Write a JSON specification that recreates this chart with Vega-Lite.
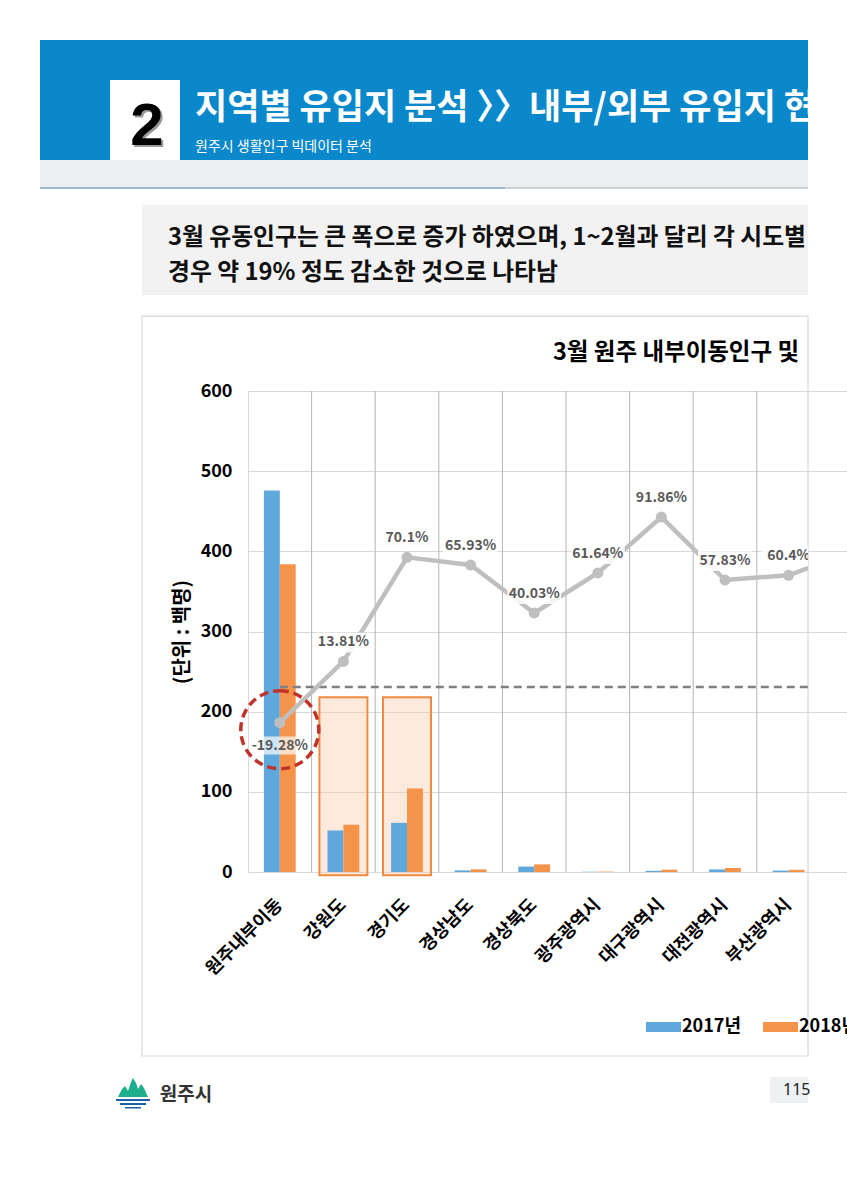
{
  "$schema": "https://vega.github.io/schema/vega-lite/v6.json",
  "padding": {"left": 40, "top": 40, "right": 0, "bottom": 0},
  "background": "#ffffff",
  "config": {
    "view": {"stroke": null},
    "font": "Noto Sans CJK KR",
    "locale": {"number": {"decimal": ".", "thousands": ",", "grouping": [3], "currency": ["", ""], "minus": "-"}}
  },
  "datasets": {
    "bars": [
      {"cat": "원주내부이동", "year": "2017년", "value": 476},
      {"cat": "원주내부이동", "year": "2018년", "value": 384},
      {"cat": "강원도", "year": "2017년", "value": 51.8},
      {"cat": "강원도", "year": "2018년", "value": 59},
      {"cat": "경기도", "year": "2017년", "value": 61.3},
      {"cat": "경기도", "year": "2018년", "value": 104.3},
      {"cat": "경상남도", "year": "2017년", "value": 2.0},
      {"cat": "경상남도", "year": "2018년", "value": 3.3},
      {"cat": "경상북도", "year": "2017년", "value": 6.8},
      {"cat": "경상북도", "year": "2018년", "value": 9.5},
      {"cat": "광주광역시", "year": "2017년", "value": 0.3},
      {"cat": "광주광역시", "year": "2018년", "value": 0.5},
      {"cat": "대구광역시", "year": "2017년", "value": 1.5},
      {"cat": "대구광역시", "year": "2018년", "value": 2.9},
      {"cat": "대전광역시", "year": "2017년", "value": 3.2},
      {"cat": "대전광역시", "year": "2018년", "value": 5.0},
      {"cat": "부산광역시", "year": "2017년", "value": 1.7},
      {"cat": "부산광역시", "year": "2018년", "value": 2.7},
      {"cat": "서울특별시", "year": "2017년", "value": 5.0},
      {"cat": "서울특별시", "year": "2018년", "value": 8.6}
    ],
    "rate": [
      {"cat": "원주내부이동", "pct": -0.1928, "highlight": false},
      {"cat": "강원도", "pct": 0.1381, "highlight": true},
      {"cat": "경기도", "pct": 0.701, "highlight": true},
      {"cat": "경상남도", "pct": 0.6593, "highlight": false},
      {"cat": "경상북도", "pct": 0.4003, "highlight": false},
      {"cat": "광주광역시", "pct": 0.6164, "highlight": false},
      {"cat": "대구광역시", "pct": 0.9186, "highlight": false},
      {"cat": "대전광역시", "pct": 0.5783, "highlight": false},
      {"cat": "부산광역시", "pct": 0.604, "highlight": false},
      {"cat": "서울특별시", "pct": 0.73, "highlight": false}
    ]
  },
  "spacing": 0,
  "vconcat": [
    {
      "spacing": 0,
      "hconcat": [
        {"width": 70, "height": 120, "view": {"fill": "#0A88CB"}, "data": {"values": []}, "mark": "point"},
        {
          "spacing": 0,
          "vconcat": [
            {"width": 70, "height": 40, "view": {"fill": "#0A88CB"}, "data": {"values": []}, "mark": "point"},
            {
              "width": 70, "height": 80, "view": {"fill": "#FFFFFF"},
              "data": {"values": [{"t": "2"}]},
              "layer": [
                {"mark": {"type": "text", "font": "Liberation Sans", "fontSize": 60, "fontWeight": "bold", "color": "#9A9A9A", "align": "center", "baseline": "alphabetic", "dx": 4, "dy": 27}, "encoding": {"text": {"field": "t"}}},
                {"mark": {"type": "text", "font": "Liberation Sans", "fontSize": 60, "fontWeight": "bold", "color": "#000000", "align": "center", "baseline": "alphabetic", "dx": 2, "dy": 25}, "encoding": {"text": {"field": "t"}}}
              ]
            }
          ]
        },
        {
          "width": 628, "height": 120, "view": {"fill": "#0A88CB"},
          "layer": [
            {"data": {"values": [{"t": "지역별 유입지 분석 〉〉내부/외부 유입지 현황"}]}, "mark": {"type": "text", "fontSize": 35, "fontWeight": "bold", "color": "#FFFFFF", "align": "left", "baseline": "alphabetic", "dx": -299, "dy": 19, "limit": 625, "ellipsis": "\u200b"}, "encoding": {"text": {"field": "t"}}},
            {"data": {"values": [{"t": "원주시 생활인구 빅데이터 분석"}]}, "mark": {"type": "text", "fontSize": 14, "color": "#FFFFFF", "align": "left", "baseline": "alphabetic", "dx": -299, "dy": 51}, "encoding": {"text": {"field": "t"}}}
          ]
        }
      ]
    },
    {"width": 768, "height": 27, "view": {"fill": "#ECEEF2"}, "data": {"values": []}, "mark": "point"},
    {
      "spacing": 0,
      "hconcat": [
        {"width": 465, "height": 2, "view": {"fill": "#9DB9D8"}, "data": {"values": []}, "mark": "point"},
        {"width": 303, "height": 2, "view": {"fill": "#CDD0D5"}, "data": {"values": []}, "mark": "point"}
      ]
    },
    {"width": 1, "height": 16, "data": {"values": []}, "mark": "point"},
    {
      "spacing": 0,
      "hconcat": [
        {"width": 102, "height": 90, "data": {"values": []}, "mark": "point"},
        {
          "width": 666, "height": 90, "view": {"fill": "#F2F2F2"},
          "layer": [
            {"data": {"values": [{"t": "3월 유동인구는 큰 폭으로 증가 하였으며, 1~2월과 달리 각 시도별"}]}, "mark": {"type": "text", "fontSize": 23.8, "fontWeight": "bold", "color": "#111111", "align": "left", "baseline": "alphabetic", "dx": -307, "dy": -5, "limit": 662, "ellipsis": "\u200b"}, "encoding": {"text": {"field": "t"}}},
            {"data": {"values": [{"t": "경우 약 19% 정도 감소한 것으로 나타남"}]}, "mark": {"type": "text", "fontSize": 23.8, "fontWeight": "bold", "color": "#111111", "align": "left", "baseline": "alphabetic", "dx": -307, "dy": 30}, "encoding": {"text": {"field": "t"}}}
          ]
        }
      ]
    },
    {"width": 1, "height": 20, "data": {"values": []}, "mark": "point"},
    {
      "bounds": "flush",
      "spacing": 0,
      "hconcat": [
        {"width": 208, "height": 481, "data": {"values": []}, "mark": "point"},
        {
          "width": 560,
          "height": 481,
          "title": {"text": "3월 원주 내부이동인구 및", "anchor": "start", "frame": "group", "dx": 305, "offset": -49, "fontSize": 23.5, "fontWeight": "bold", "color": "#000000", "font": "Noto Sans CJK KR"},
          "layer": [
            {
              "layer": [
                {
                  "data": {"values": [{"box": "chart area"}]},
                  "mark": {"type": "rect", "fill": null, "stroke": "#D9D9D9", "strokeWidth": 1.2, "clip": false},
                  "encoding": {
                    "x": {"datum": "원주내부이동", "type": "nominal", "bandPosition": -1.6667,
                      "scale": {"domain": ["원주내부이동", "강원도", "경기도", "경상남도", "경상북도", "광주광역시", "대구광역시", "대전광역시", "부산광역시", "서울특별시"], "range": [0, 636], "paddingInner": 0, "paddingOuter": 0},
                      "axis": {"values": ["원주내부이동", "강원도", "경기도", "경상남도", "경상북도", "광주광역시", "대구광역시", "대전광역시", "부산광역시"], "title": null, "labelAngle": -45, "labelAlign": "right", "labelBaseline": "middle", "labelFontSize": 18, "labelFontWeight": "bold", "labelColor": "#000000", "labelPadding": 30, "labelLimit": 300, "ticks": false, "domain": false, "grid": false}},
                    "x2": {"datum": "부산광역시", "bandPosition": 0.805},
                    "y": {"datum": 693.5, "type": "quantitative", "scale": {"domain": [0, 600], "nice": false, "zero": true},
                      "axis": {"title": "(단위 : 백명)", "values": [0, 100, 200, 300, 400, 500, 600], "grid": true, "gridColor": "#D9D9D9", "gridWidth": 1, "ticks": false, "domain": false, "labelFontSize": 18, "labelFontWeight": "bold", "labelColor": "#000000", "labelPadding": 16, "titleFontSize": 20, "titleFontWeight": "bold", "titleColor": "#000000", "titlePadding": 8}},
                    "y2": {"datum": -229.5}
                  }
                },
                {
                  "data": {"name": "rate"},
                  "mark": {"type": "rule", "color": "#B4B4B4", "strokeWidth": 1, "clip": true},
                  "encoding": {
                    "x": {"field": "cat", "type": "nominal", "sort": null, "bandPosition": 0,
                      "scale": {"domain": ["원주내부이동", "강원도", "경기도", "경상남도", "경상북도", "광주광역시", "대구광역시", "대전광역시", "부산광역시", "서울특별시"], "range": [0, 636], "paddingInner": 0, "paddingOuter": 0},
                      "axis": {"values": ["원주내부이동", "강원도", "경기도", "경상남도", "경상북도", "광주광역시", "대구광역시", "대전광역시", "부산광역시"], "title": null, "labelAngle": -45, "labelAlign": "right", "labelBaseline": "middle", "labelFontSize": 18, "labelFontWeight": "bold", "labelColor": "#000000", "labelPadding": 30, "labelLimit": 300, "ticks": false, "domain": false, "grid": false}}
                  }
                },
                {
                  "data": {"name": "rate"},
                  "transform": [{"filter": "datum.highlight"}],
                  "mark": {"type": "bar", "width": {"band": 0.755}, "fill": "#F9CBA9", "fillOpacity": 0.4, "stroke": "#EE8B40", "strokeWidth": 2, "clip": false},
                  "encoding": {
                    "x": {"field": "cat", "type": "nominal", "sort": null,
                      "scale": {"domain": ["원주내부이동", "강원도", "경기도", "경상남도", "경상북도", "광주광역시", "대구광역시", "대전광역시", "부산광역시", "서울특별시"], "range": [0, 636], "paddingInner": 0, "paddingOuter": 0},
                      "axis": {"values": ["원주내부이동", "강원도", "경기도", "경상남도", "경상북도", "광주광역시", "대구광역시", "대전광역시", "부산광역시"], "title": null, "labelAngle": -45, "labelAlign": "right", "labelBaseline": "middle", "labelFontSize": 18, "labelFontWeight": "bold", "labelColor": "#000000", "labelPadding": 30, "labelLimit": 300, "ticks": false, "domain": false, "grid": false}},
                    "y": {"datum": 218, "type": "quantitative", "scale": {"domain": [0, 600], "nice": false, "zero": true},
                      "axis": {"title": "(단위 : 백명)", "values": [0, 100, 200, 300, 400, 500, 600], "grid": true, "gridColor": "#D9D9D9", "gridWidth": 1, "ticks": false, "domain": false, "labelFontSize": 18, "labelFontWeight": "bold", "labelColor": "#000000", "labelPadding": 16, "titleFontSize": 20, "titleFontWeight": "bold", "titleColor": "#000000", "titlePadding": 8}},
                    "y2": {"datum": -4}
                  }
                },
                {
                  "data": {"name": "bars"},
                  "mark": {"type": "bar", "clip": true},
                  "encoding": {
                    "x": {"field": "cat", "type": "nominal", "sort": null,
                      "scale": {"domain": ["원주내부이동", "강원도", "경기도", "경상남도", "경상북도", "광주광역시", "대구광역시", "대전광역시", "부산광역시", "서울특별시"], "range": [0, 636], "paddingInner": 0, "paddingOuter": 0},
                      "axis": {"values": ["원주내부이동", "강원도", "경기도", "경상남도", "경상북도", "광주광역시", "대구광역시", "대전광역시", "부산광역시"], "title": null, "labelAngle": -45, "labelAlign": "right", "labelBaseline": "middle", "labelFontSize": 18, "labelFontWeight": "bold", "labelColor": "#000000", "labelPadding": 30, "labelLimit": 300, "ticks": false, "domain": false, "grid": false}},
                    "xOffset": {"field": "year", "type": "nominal", "scale": {"paddingInner": 0, "paddingOuter": 1.078}},
                    "y": {"field": "value", "type": "quantitative", "scale": {"domain": [0, 600], "nice": false, "zero": true},
                      "axis": {"title": "(단위 : 백명)", "values": [0, 100, 200, 300, 400, 500, 600], "grid": true, "gridColor": "#D9D9D9", "gridWidth": 1, "ticks": false, "domain": false, "labelFontSize": 18, "labelFontWeight": "bold", "labelColor": "#000000", "labelPadding": 16, "titleFontSize": 20, "titleFontWeight": "bold", "titleColor": "#000000", "titlePadding": 8}},
                    "color": {"field": "year", "type": "nominal",
                      "scale": {"domain": ["2017년", "2018년"], "range": ["#5FA8DC", "#F5934A"]},
                      "legend": {"orient": "none", "legendX": 602, "legendY": 978, "direction": "horizontal", "title": null, "symbolType": "M-1,-1H6V1H-1Z", "symbolSize": 100, "symbolStrokeWidth": 0, "symbolOpacity": 1, "labelFontSize": 18, "labelFontWeight": "bold", "labelColor": "#000000", "labelOffset": 22, "columnPadding": 17, "padding": 0}}
                  }
                }
              ]
            },
            {
              "layer": [
                {
                  "data": {"name": "rate"},
                  "mark": {"type": "line", "strokeDash": [8, 5], "color": "#7F7F7F", "strokeWidth": 2.5, "clip": true},
                  "encoding": {
                    "x": {"field": "cat", "type": "nominal", "sort": null},
                    "y": {"datum": 0, "type": "quantitative", "scale": {"domain": [-1, 1.6], "nice": false, "zero": false}, "axis": null}
                  }
                },
                {
                  "data": {"name": "rate"},
                  "mark": {"type": "line", "color": "#BFBFBF", "strokeWidth": 4.5, "clip": true},
                  "encoding": {
                    "x": {"field": "cat", "type": "nominal", "sort": null},
                    "y": {"field": "pct", "type": "quantitative", "scale": {"domain": [-1, 1.6], "nice": false, "zero": false}, "axis": null}
                  }
                },
                {
                  "data": {"name": "rate"},
                  "mark": {"type": "point", "shape": "circle", "filled": true, "size": 121, "color": "#BFBFBF", "opacity": 1, "clip": true},
                  "encoding": {
                    "x": {"field": "cat", "type": "nominal", "sort": null},
                    "y": {"field": "pct", "type": "quantitative", "scale": {"domain": [-1, 1.6], "nice": false, "zero": false}, "axis": null}
                  }
                },
                {
                  "data": {"name": "rate"},
                  "transform": [{"filter": "datum.pct >= 0"}],
                  "mark": {"type": "point", "shape": "M-3,-3.2H3V-1H-3Z", "filled": true, "size": 324, "color": "#FFFFFF", "opacity": 0.85, "strokeWidth": 0, "clip": true},
                  "encoding": {
                    "x": {"field": "cat", "type": "nominal", "sort": null},
                    "y": {"field": "pct", "type": "quantitative", "scale": {"domain": [-1, 1.6], "nice": false, "zero": false}, "axis": null}
                  }
                },
                {
                  "data": {"name": "rate"},
                  "transform": [{"filter": "datum.pct < 0"}],
                  "mark": {"type": "point", "shape": "M-3.3,1.55H3.3V3.55H-3.3Z", "filled": true, "size": 324, "color": "#FFFFFF", "opacity": 0.7, "strokeWidth": 0, "clip": true},
                  "encoding": {
                    "x": {"field": "cat", "type": "nominal", "sort": null},
                    "y": {"field": "pct", "type": "quantitative", "scale": {"domain": [-1, 1.6], "nice": false, "zero": false}, "axis": null}
                  }
                },
                {
                  "data": {"name": "rate"},
                  "transform": [{"filter": "datum.pct >= 0"}],
                  "mark": {"type": "text", "dy": -19, "baseline": "middle", "align": "center", "fontSize": 14, "fontWeight": "bold", "color": "#595959", "clip": true},
                  "encoding": {
                    "x": {"field": "cat", "type": "nominal", "sort": null},
                    "y": {"field": "pct", "type": "quantitative", "scale": {"domain": [-1, 1.6], "nice": false, "zero": false}, "axis": null},
                    "text": {"field": "pct", "type": "quantitative", "format": ".2~%"}
                  }
                },
                {
                  "data": {"name": "rate"},
                  "transform": [{"filter": "datum.pct < 0"}],
                  "mark": {"type": "text", "dy": 23, "baseline": "middle", "align": "center", "fontSize": 14, "fontWeight": "bold", "color": "#595959", "clip": true},
                  "encoding": {
                    "x": {"field": "cat", "type": "nominal", "sort": null},
                    "y": {"field": "pct", "type": "quantitative", "scale": {"domain": [-1, 1.6], "nice": false, "zero": false}, "axis": null},
                    "text": {"field": "pct", "type": "quantitative", "format": ".2~%"}
                  }
                },
                {
                  "data": {"name": "rate"},
                  "transform": [{"filter": "datum.pct < 0"}],
                  "mark": {"type": "point", "shape": "M0,-0.82A1,1,0,1,1,0,1.18A1,1,0,1,1,0,-0.82Z", "filled": false, "size": 6084, "stroke": "#C0332B", "strokeWidth": 3.5, "strokeDash": [9, 5], "opacity": 1, "clip": false},
                  "encoding": {
                    "x": {"field": "cat", "type": "nominal", "sort": null},
                    "y": {"field": "pct", "type": "quantitative", "scale": {"domain": [-1, 1.6], "nice": false, "zero": false}, "axis": null}
                  }
                }
              ]
            }
          ],
          "resolve": {"scale": {"y": "independent"}}
        }
      ]
    },
    {"width": 1, "height": 20, "data": {"values": []}, "mark": "point"},
    {
      "spacing": 0,
      "hconcat": [
        {"width": 75, "height": 36, "data": {"values": []}, "mark": "point"},
        {
          "width": 36, "height": 36,
          "data": {"values": [{"t": "logo"}]},
          "layer": [
            {"mark": {"type": "point", "shape": "M-15,2L-11,-6L-8,-9L-5,-4L-2,-13L0,-17L3,-12L5,-6L8,-11L11,-7L15,2Z", "size": 4, "filled": true, "color": "#1FAE8C", "opacity": 1, "strokeWidth": 0}, "encoding": {}},
            {"mark": {"type": "point", "shape": "M-17,4H17V6H-17Z M-13,8H13V10H-13Z M-8,12H8V13.5H-8Z", "size": 4, "filled": true, "color": "#1B5FA6", "opacity": 1, "strokeWidth": 0}, "encoding": {}}
          ]
        },
        {
          "width": 70, "height": 36,
          "data": {"values": [{"t": "원주시"}]},
          "mark": {"type": "text", "fontSize": 19, "fontWeight": "bold", "color": "#333333", "align": "center", "baseline": "middle"},
          "encoding": {"text": {"field": "t"}}
        },
        {"width": 549, "height": 36, "data": {"values": []}, "mark": "point"},
        {
          "width": 38, "height": 26, "view": {"fill": "#EEF0F4"},
          "data": {"values": [{"t": "115"}]},
          "mark": {"type": "text", "font": "Noto Sans", "fontSize": 16, "color": "#222222", "align": "left", "baseline": "middle", "dx": -6},
          "encoding": {"text": {"field": "t"}}
        }
      ]
    }
  ]
}
